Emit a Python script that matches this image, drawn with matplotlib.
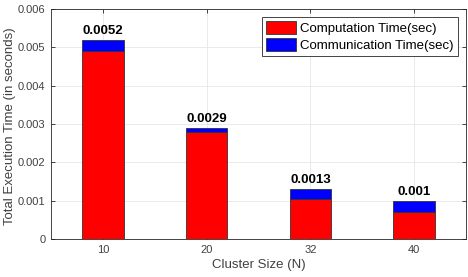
import matplotlib
matplotlib.use("Agg")
import matplotlib.pyplot as plt
import numpy as np

categories = ["10", "20", "32", "40"]
computation = [0.0049, 0.0028, 0.00105, 0.0007]
communication = [0.0003, 0.0001, 0.00025, 0.0003]
totals_labels = ["0.0052", "0.0029", "0.0013", "0.001"]

plt.rcParams['font.family'] = ['Liberation Sans', 'DejaVu Sans']

fig = plt.figure(figsize=(4.68, 2.77), dpi=100)
ax = fig.add_axes([0.109, 0.137, 0.887, 0.831])

x = np.arange(1, len(categories) + 1)
w = 0.4
ax.bar(x, computation, w, color='#ff0000', edgecolor='#333333', linewidth=0.6,
       label='Computation Time(sec)', zorder=3)
ax.bar(x, communication, w, bottom=computation, color='#0000ff', edgecolor='#333333',
       linewidth=0.6, label='Communication Time(sec)', zorder=3)

for xi, c, m, t in zip(x, computation, communication, totals_labels):
    ax.text(xi, c + m + 0.00007, t, ha='center', va='bottom', fontsize=9.5,
            fontweight='bold', color='black')

ax.set_xlim(0.5, 4.5)
ax.set_ylim(0, 0.006)
ax.set_xticks(x)
ax.set_xticklabels(categories)
ax.set_yticks([0, 0.001, 0.002, 0.003, 0.004, 0.005, 0.006])
ax.set_yticklabels(['0', '0.001', '0.002', '0.003', '0.004', '0.005', '0.006'])
ax.tick_params(direction='in', top=True, right=True, labelsize=8, colors='#262626',
               labelcolor='#404040', length=3, width=0.6, pad=4)
ax.grid(True, color='#e6e6e6', linewidth=0.6, zorder=0)
for s in ax.spines.values():
    s.set_color('#262626')
    s.set_linewidth(0.6)

ax.set_xlabel('Cluster Size (N)', fontsize=9.5, color='#404040', labelpad=3)
ax.set_ylabel('Total Execution Time (in seconds)', fontsize=9.5, color='#404040')
ax.yaxis.set_label_coords(-0.1, 0.49)
ax.yaxis.label.set_va('center')

leg = ax.legend(loc='upper right', fontsize=9.5, fancybox=False, framealpha=1,
                edgecolor='#262626', handlelength=2.3, handleheight=1.1,
                borderpad=0.3, labelspacing=0.25, handletextpad=0.3,
                borderaxespad=0, bbox_to_anchor=(0.98, 0.965))
leg.get_frame().set_linewidth(0.6)

fig.savefig('out.png', dpi=100)
